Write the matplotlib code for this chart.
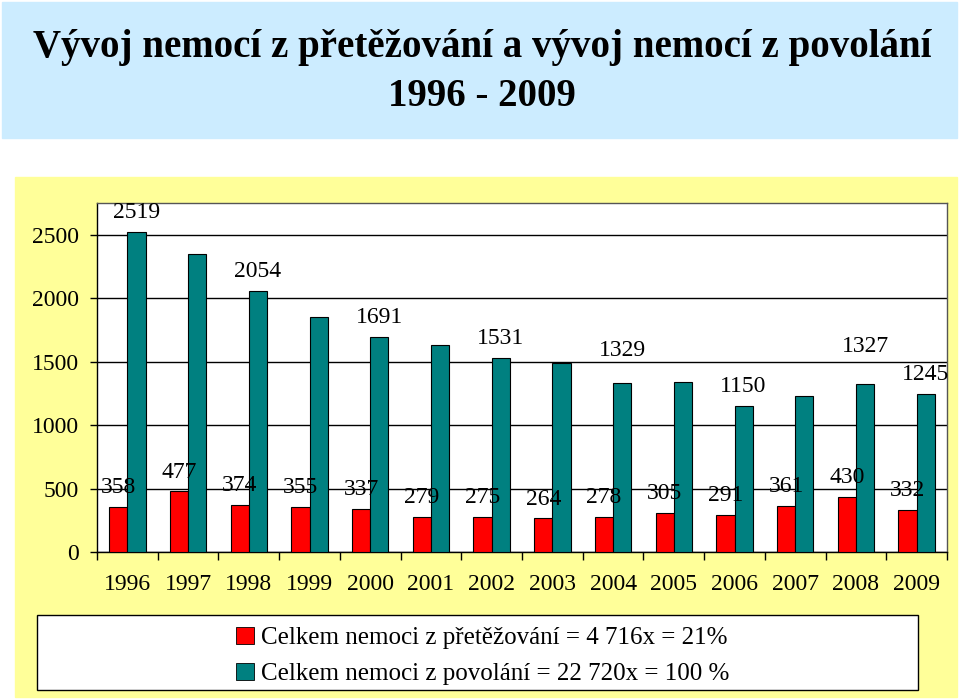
import matplotlib.pyplot as plt
from matplotlib.patches import Rectangle, Patch
import numpy as np

years = ['1996', '1997', '1998', '1999', '2000', '2001', '2002',
         '2003', '2004', '2005', '2006', '2007', '2008', '2009']
pretezovani = [358, 477, 374, 355, 337, 279, 275, 264, 278, 305, 291, 361, 430, 332]
povolani = [2519, 2350, 2054, 1848, 1691, 1633, 1531, 1493, 1329, 1338, 1150, 1230, 1327, 1245]
# which teal bars carry a value label in the original
povolani_labelled = ['1996', '1998', '2000', '2002', '2004', '2006', '2008', '2009']

legend_labels = ['Celkem nemoci z přetěžování = 4 716x = 21%',
                 'Celkem nemoci z povolání = 22 720x = 100 %']
title_lines = ['Vývoj nemocí z přetěžování a vývoj nemocí z povolání', '1996 - 2009']

red = '#FF0000'
teal = '#008080'
serif = ['Liberation Serif', 'DejaVu Serif']
plt.rcParams['font.family'] = serif

fig = plt.figure(figsize=(9.6, 7), dpi=100)

# background panels (below the axes)
fig.patches.append(Rectangle((2/960, 1 - 138/700), 955/960, 136/700,
                             transform=fig.transFigure, color='#CCECFF', zorder=-2))
fig.patches.append(Rectangle((15/960, 1 - 697/700), 942/960, 520/700,
                             transform=fig.transFigure, color='#FFFF99', zorder=-2))
for t, ypx in zip(title_lines, [47, 97]):
    fig.text(0.502, 1 - ypx/700, t, ha='center', va='center', fontsize=28,
             fontweight='bold')

ax = fig.add_axes([97/960, 1 - 552/700, 850/960, 349/700])
ax.set_facecolor('white')
x = np.arange(len(years))
w = 0.3
ax.bar(x - w/2, pretezovani, w, color=red, edgecolor='black', linewidth=0.8, zorder=3)
ax.bar(x + w/2, povolani, w, color=teal, edgecolor='black', linewidth=0.8, zorder=3)

fs = 17
for xi, v in zip(x, pretezovani):
    ax.annotate(str(v), (xi - w/2, v), xytext=(0, 14), textcoords='offset points',
                ha='center', va='center', fontsize=fs, zorder=4)
extra = {'2004': 10, '2008': 13}
for xi, y, v in zip(x, years, povolani):
    if y in povolani_labelled:
        ax.annotate(str(v), (xi + w/2, v), xytext=(0, 14 + extra.get(y, 0)),
                    textcoords='offset points', ha='center', va='center',
                    fontsize=fs, zorder=4)

ax.set_xlim(-0.5, len(years) - 0.5)
ax.set_ylim(0, 2750)
ax.set_yticks(range(0, 2501, 500))
ax.yaxis.grid(True, color='black', linewidth=1)
ax.set_axisbelow(True)
ax.tick_params(axis='y', labelsize=fs, length=5, width=1, pad=8)
ax.set_xticks(x)
ax.set_xticklabels(years)
ax.set_xticks(np.arange(-0.5, len(years)), minor=True)
ax.tick_params(axis='x', which='major', length=0, labelsize=fs, pad=16)
ax.tick_params(axis='x', which='minor', length=6, width=1)
for s in ax.spines.values():
    s.set_color('black')
    s.set_linewidth(1)
ax.spines['right'].set_color('#555555')
ax.spines['top'].set_color('#555555')

# legend box
fig.patches.append(Rectangle((37/960, 1 - 690/700), 881/960, 75/700,
                             transform=fig.transFigure, facecolor='white',
                             edgecolor='black', linewidth=1, zorder=1))
handles = [Patch(facecolor=red, edgecolor='black', linewidth=0.6),
           Patch(facecolor=teal, edgecolor='black', linewidth=0.6)]
fig.legend(handles, legend_labels, loc='center', bbox_to_anchor=(0.503, 1 - 656/700),
           frameon=False, fontsize=18, handlelength=0.7, handleheight=0.7,
           handletextpad=0.3, labelspacing=0.55)

fig.savefig('out.png', dpi=100)
